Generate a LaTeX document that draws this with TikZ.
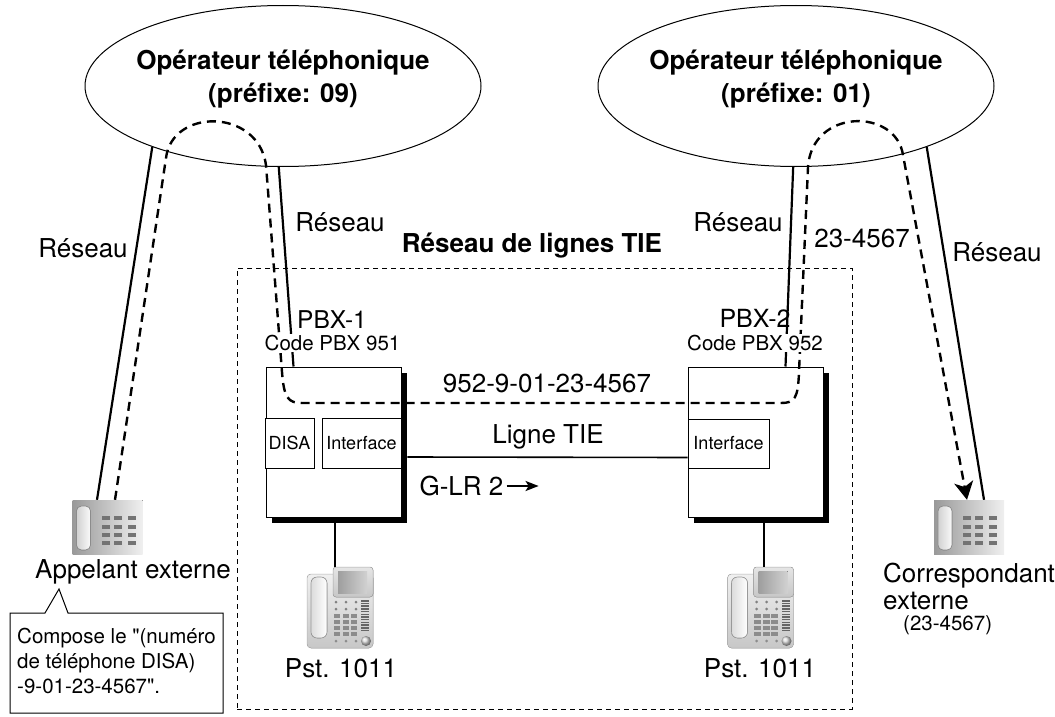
\documentclass[tikz,border=0pt]{standalone}
\usepackage{fontspec}
\setmainfont{TeX Gyre Heros}[Ligatures=TeXOff]
\usetikzlibrary{shapes.geometric,arrows.meta,calc,shadows}

\begin{document}
\begin{tikzpicture}[x=1pt,y=-1pt,
  big/.style={font=\fontsize{26}{31}\selectfont, inner sep=0pt},
  bigb/.style={font=\bfseries\fontsize{26}{33}\selectfont, inner sep=0pt, align=center},
  mid/.style={font=\fontsize{20.5}{24}\selectfont, inner sep=0pt},
  carrier/.style={ellipse, draw, line width=1pt, minimum width=396pt, minimum height=161pt, inner sep=0pt},
  pbxbox/.style={draw, fill=white, line width=1pt, minimum width=135pt, minimum height=150pt, inner sep=0pt,
    general shadow={fill=black, shadow xshift=6pt, shadow yshift=-6pt}},
  subbox/.style={draw, fill=white, line width=0.8pt, inner sep=0pt, font=\fontsize{18}{21}\selectfont},
  tieframe/.style={draw, line width=0.8pt, dash pattern=on 5pt off 4pt, inner sep=0pt},
  wire/.style={line width=2.2pt},
  callpath/.style={line width=2.4pt, dash pattern=on 9pt off 6pt},
  holder/.style={inner sep=0pt, minimum width=#1},
  extphone/.pic={
    \fill[left color=black!40, right color=black!6] (-35,-27) rectangle (35,27);
    \fill[left color=black!18, right color=black!2, draw=black!45, line width=0.6pt, rounded corners=5pt]
      (-31,-21) rectangle (-17,23);
    \foreach \cx in {-2,10,24}
      \foreach \cy in {-9,0,8,16}
        \fill[black!55] (\cx-4,\cy-1.8) rectangle (\cx+4,\cy+1.8);
  },
  deskphone/.pic={
    \fill[top color=black!6, bottom color=black!22, draw=black!30, line width=0.5pt, rounded corners=4pt]
      (-33,-34) rectangle (33,40);
    \fill[top color=black!10, bottom color=black!22, draw=black!35, line width=0.5pt, rounded corners=3pt]
      (-7,-41) rectangle (33,-11);
    \fill[left color=black!38, right color=black!18] (-2,-37) rectangle (27,-15);
    \fill[left color=black!14, right color=white, draw=black!40, line width=0.6pt, rounded corners=6pt]
      (-29,-31) rectangle (-13,30);
    \foreach \cx in {-4,6,16}
      \foreach \cy in {-6,1}
        \fill[black!50] (\cx,\cy) circle (1.5);
    \foreach \cx in {-3,6,14}
      \foreach \cy in {8,14,20,26}
        \fill[black!45] (\cx-3.2,\cy-2) rectangle (\cx+3.2,\cy+2);
    \foreach \k in {0,...,11}
      \fill[black!60] (21,-8+\k*2.7) rectangle (29,-8+\k*2.7+1.5);
    \foreach \cx in {-4,6,16}
      \fill[black!45] (\cx,33) circle (1.5);
    \shade[ball color=black!15] (26,33) circle (5);
  },
]
\useasboundingbox (0,0) rectangle (1055,717);

% TIE network frame and its title
\node[tieframe, minimum width=615pt, minimum height=441pt] (tie) at (544.5,488.5) {};
\node[bigb] (tietitle) at (532,246) {Réseau de lignes TIE};

% carrier clouds
\node[carrier] (op1) at (283,86) {};
\node[carrier] (op2) at (796,86) {};
\node[bigb] (op1t) at (283,79) {Opérateur téléphonique\\(préfixe: 09)};
\node[bigb] (op2t) at (796,79) {Opérateur téléphonique\\(préfixe: 01)};

% PBX units
\node[pbxbox] (pbx1) at (333.5,442) {};
\node[pbxbox] (pbx2) at (755.5,442) {};
\node[subbox, minimum width=49pt, minimum height=50pt] (disa) at (289.5,443) {DISA};
\node[subbox, minimum width=79pt, minimum height=50pt] (if1) at (361.5,443) {Interface};
\node[subbox, minimum width=81pt, minimum height=49pt] (if2) at (728.5,443.5) {Interface};

% telephones
\node[holder=70pt, minimum height=54pt] (ph1) at (107.5,527) {};
\pic at (ph1) {extphone};
\node[holder=70pt, minimum height=54pt] (ph2) at (969,527) {};
\pic at (ph2) {extphone};
\node[holder=66pt, minimum height=82pt] (st1) at (340,608) {};
\pic at (st1) {deskphone};
\node[holder=66pt, minimum height=82pt] (st2) at (760.5,608) {};
\pic at (st2) {deskphone};

% trunk lines
\draw[wire] (op1.205) -- ([xshift=-10.5pt]ph1.north);
\draw[wire] (op1.267) -- ($(pbx1.north west)+(28,0)$);
\draw[wire] (op2.268) -- ($(pbx2.north west)+(98,0)$);
\draw[wire] (op2.335) -- ([xshift=15pt]ph2.north);

% TIE line and extension lines
\draw[line width=1.6pt] ([xshift=6pt,yshift=-14pt]if1.east) -- ([yshift=-14pt]if2.west);
\draw[line width=2pt] ([xshift=-5pt]st1.north |- pbx1.south) -- ([xshift=-5pt]st1.north);
\draw[line width=2pt] ([xshift=3.5pt]st2.north |- pbx2.south) -- ([xshift=3.5pt]st2.north);

% call route
\draw[callpath, -{Stealth[length=18pt, width=19pt, inset=5pt]}]
  ([xshift=7.5pt]ph1.north) -- (166,158)
  .. controls (172,108) and (258,108) .. (266,165)
  -- (282,372) .. controls (284,398) and (288,403) .. (302,403)
  -- (781,403) .. controls (795,403) and (798,398) .. (799,372)
  -- (808,167) .. controls (812,108) and (896,108) .. (903,155)
  -- ([xshift=-2pt]ph2.north);

% labels
\node[big] (res1) at (83,248) {Réseau};
\node[big] (res2) at (340,222) {Réseau};
\node[big] (res3) at (738,222) {Réseau};
\node[big] (res4) at (997,252) {Réseau};
\node[big] (num1) at (862,238) {23-4567};
\node[font=\fontsize{24.5}{28}\selectfont, inner sep=0pt] (pbx1n) at (332,320) {PBX-1};
\node[mid, fill=white, inner sep=1pt] (pbx1c) at (332.5,343) {Code PBX 951};
\node[font=\fontsize{25}{28}\selectfont, inner sep=0pt] (pbx2n) at (755,318) {PBX-2};
\node[mid, fill=white, inner sep=1pt] (pbx2c) at (755,343) {Code PBX 952};
\node[big] (dial) at (547,383) {952-9-01-23-4567};
\node[big] (tiel) at (548,437) {Ligne TIE};
\node[big] (glr) at (461.5,486) {G-LR 2};
\draw[line width=2pt, -{Stealth[length=13pt, width=10pt, inset=3pt]}] ([xshift=3pt]glr.east) -- ++(32,0);
\node[big] (caller) at (133,572) {Appelant externe};
\node[big, anchor=west, align=left, font=\fontsize{26}{27}\selectfont] (callee) at (883,586) {Correspondant\\externe};
\node[mid, anchor=west] (calleenum) at (903,625) {(23-4567)};
\node[big] (st1l) at (341,668) {Pst. 1011};
\node[big] (st2l) at (760,668) {Pst. 1011};

% speech balloon from the caller
\node[font=\fontsize{20.5}{25}\selectfont, inner sep=0pt, align=left, anchor=north west]
  (note) at (17,628) {Compose le "(numéro\\de téléphone DISA)\\-9-01-23-4567".};
\draw[line width=1pt] (10,613) -- (45,613) -- (59,589) -- (68,613) -- (223,613)
  -- (223,713) -- (10,713) -- cycle;
\end{tikzpicture}
\end{document}
